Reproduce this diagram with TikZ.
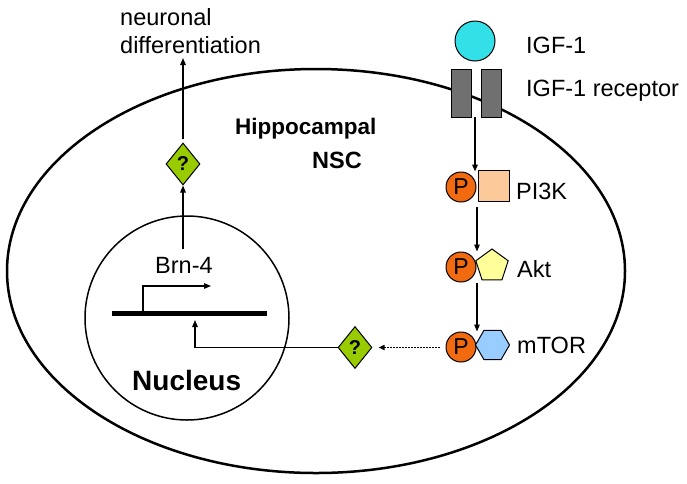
\documentclass[tikz,border=0pt]{standalone}
\usepackage{fontspec}
\setmainfont{Liberation Sans}
\usetikzlibrary{shapes.geometric,arrows.meta,calc}
\definecolor{igfc}{HTML}{33E0E8}
\definecolor{recc}{HTML}{707070}
\definecolor{pc}{HTML}{F26A10}
\definecolor{sqc}{HTML}{FBC99A}
\definecolor{pentc}{HTML}{FFFF99}
\definecolor{hexc}{HTML}{99CCFF}
\definecolor{qc}{HTML}{99CC00}
\begin{document}
\begin{tikzpicture}[x=1pt,y=-1pt,
  lbl/.style={inner sep=0pt, anchor=base west, font=\fontsize{23.5}{27}\selectfont},
  bold/.style={inner sep=0pt, anchor=base west, font=\bfseries\fontsize{#1}{#1}\selectfont},
  pnode/.style={circle, draw=black, line width=1pt, fill=pc, minimum size=30pt, inner sep=0pt, font=\fontsize{23}{23}\selectfont},
  qnode/.style={diamond, draw=black, line width=1pt, fill=qc, minimum width=34pt, minimum height=42pt, inner sep=0pt, font=\bfseries\fontsize{20}{20}\selectfont},
  arr/.style={line width=1.3pt, -{Triangle[length=7pt,width=5.5pt]}},
]
\useasboundingbox (0,0) rectangle (687,483);
% cell
\node[ellipse, draw=black, line width=2.5pt, minimum width=618pt, minimum height=404pt, inner sep=0pt] (cell) at (316,271) {};
% nucleus
\node[circle, draw=black, line width=1.5pt, minimum size=204pt, inner sep=0pt] (nuc) at (187,318) {};
% receptor and ligand
\node[circle, draw=black, line width=1pt, fill=igfc, minimum size=40pt, inner sep=0pt] (igf) at (475,41) {};
\node[rectangle, draw=black, line width=1pt, fill=recc, minimum width=20pt, minimum height=48pt, inner sep=0pt] (r1) at (461,93) {};
\node[rectangle, draw=black, line width=1pt, fill=recc, minimum width=20pt, minimum height=48pt, inner sep=0pt] (r2) at (491,93) {};
\node[lbl] (tigf) at (526,53) {IGF-1};
\node[lbl] (trec) at (526,96) {IGF-1 receptor};
% PI3K
\node[pnode] (p1) at (461,187) {P};
\node[rectangle, draw=black, line width=1pt, fill=sqc, minimum size=31pt, inner sep=0pt] (pi3k) at (493.5,185.5) {};
\node[lbl] (tpi3k) at (516,199) {PI3K};
% Akt
\node[pnode] (p2) at (461,267) {P};
\node[regular polygon, regular polygon sides=5, draw=black, line width=1pt, fill=pentc, minimum size=34pt, inner sep=0pt] (akt) at (492,266) {};
\node[lbl] (takt) at (517,277) {Akt};
% mTOR
\node[pnode] (p3) at (461,347) {P};
\node[regular polygon, regular polygon sides=6, draw=black, line width=1pt, fill=hexc, minimum size=34pt, inner sep=0pt] (mtor) at (492.5,345) {};
\node[lbl] (tmtor) at (517,353) {mTOR};
% question diamonds
\node[qnode] (q1) at (183,164) {?};
\node[qnode] (q2) at (355,347.5) {?};
% texts
\node[lbl] (tn1) at (120,25) {neuronal};
\node[lbl] (tn2) at (120,53) {differentiation};
\node[bold=22.5] (thip) at (235,134) {Hippocampal};
\node[bold=23.5] (tnsc) at (312,168) {NSC};
\node[bold=28] (tnuc) at (132,390) {Nucleus};
\node[lbl] (tbrn) at (155,273) {Brn-4};
% gene
\coordinate (gl) at (112,313.5);
\coordinate (gr) at (267,313.5);
\draw[line width=5.5pt] (gl) -- (gr);
\coordinate (prom) at (143,311);
\coordinate (promtip) at (211,286);
\draw[line width=1.3pt, -{Triangle[length=7pt,width=5.5pt]}] (prom) |- (promtip);
% coordinates for connectors
\coordinate (rc) at (475,117);
\coordinate (k1) at (477,207);
\coordinate (k2) at (477,283);
\coordinate (brnTop) at (183,249);
\coordinate (genetarget) at (195,320);
\coordinate (diffBottom) at (183,58);
% connectors
\draw[arr, line width=1.7pt] (rc) -- (rc |- p1.north);
\draw[arr] (k1) -- (k1 |- p2.north);
\draw[arr] (k2) -- (k2 |- p3.north);
\draw[line width=1.6pt, dash pattern=on 1.6pt off 1.4pt, -{Triangle[length=6pt,width=5pt]}, shorten >=6pt, shorten <=6pt] (p3.west |- q2.east) -- (q2.east);
\draw[arr] (q2.west) -| (genetarget);
\draw[arr] (brnTop) -- (q1.south);
\draw[arr] (q1.north) ++(0,-4) -- (diffBottom);
\end{tikzpicture}
\end{document}
